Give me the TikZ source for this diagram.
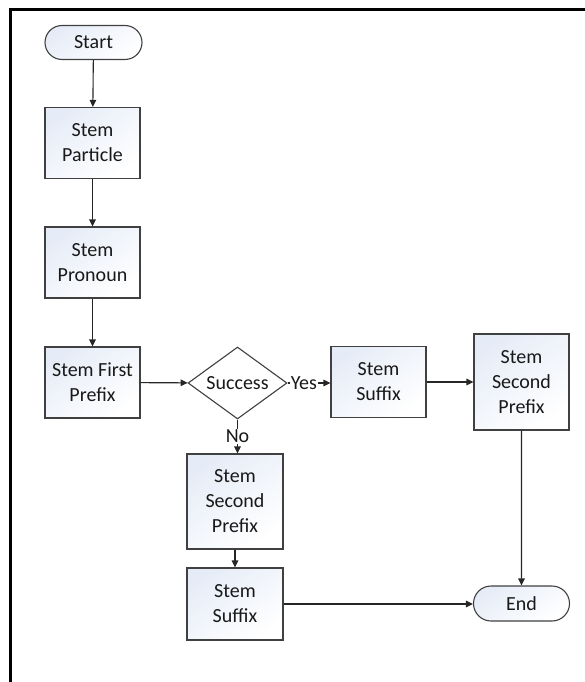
\documentclass[tikz,border=0pt]{standalone}
\usepackage{fontspec}
\setmainfont{Carlito}
\usetikzlibrary{arrows.meta,shapes.geometric,shapes.misc}
\definecolor{boxline}{HTML}{404040}
\definecolor{boxfill}{HTML}{E6ECF7}
\begin{document}
\begin{tikzpicture}[x=1pt,y=-1pt,
  every node/.style={font=\fontsize{20}{25}\selectfont, text=black!90},
  proc/.style={draw=boxline, line width=1.1pt, rectangle, inner sep=0pt, align=center,
    top color=boxfill, bottom color=white, shading angle=35,
    minimum width=95pt, minimum height=71pt},
  term/.style={draw=boxline, line width=1.1pt, rounded rectangle, inner sep=0pt,
    top color=boxfill, bottom color=white, shading angle=35,
    minimum width=97pt, minimum height=34pt},
  decision/.style={draw=boxline, line width=1.1pt, diamond, inner sep=0pt,
    fill=white, minimum width=99pt, minimum height=72pt},
  conn/.style={draw=black!85, line width=1.1pt, -{Triangle[length=7pt,width=6.5pt]}},
  lbl/.style={fill=white, inner sep=1pt}]
\useasboundingbox (0,0) rectangle (585,682);
\draw[line width=3pt, black] (10,682) -- (10,10) -- (585,10);

\node[term] (start) at (93.5,42.5) {Start};
\node[proc] (particle) at (92.5,143) {Stem\\Particle};
\node[proc] (pronoun) at (92.5,262.5) {Stem\\Pronoun};
\node[proc] (first) at (92.5,382.5) {Stem First\\Prefix};
\node[decision] (success) at (237.5,383) {\makebox[0pt]{Success}};
\node[proc] (suffixR) at (378.5,382) {Stem\\Suffix};
\node[proc, minimum height=96pt] (secondR) at (521.5,382) {Stem\\Second\\Prefix};
\node[proc, minimum width=96pt, minimum height=95pt] (secondL) at (235,501.5) {Stem\\Second\\Prefix};
\node[proc, minimum width=96pt, minimum height=72pt] (suffixL) at (235,604) {Stem\\Suffix};
\node[term, minimum width=96pt, minimum height=35pt] (end) at (521.5,603.5) {End};

\draw[conn] (start) -- (particle);
\draw[conn] (particle) -- (pronoun);
\draw[conn] (pronoun) -- (first);
\draw[conn] (first) -- (success);
\draw[conn] (success.east) -- node[lbl, pos=0.38] {Yes} (success.east -| suffixR.west);
\draw[conn] (success.south) -- node[lbl, pos=0.5] {No} (success.south |- secondL.north);
\draw[conn] (suffixR) -- (secondR);
\draw[conn] (secondR) -- (end);
\draw[conn] (secondL) -- (suffixL);
\draw[conn] (suffixL.east) -- (suffixL.east -| end.west);
\end{tikzpicture}
\end{document}
